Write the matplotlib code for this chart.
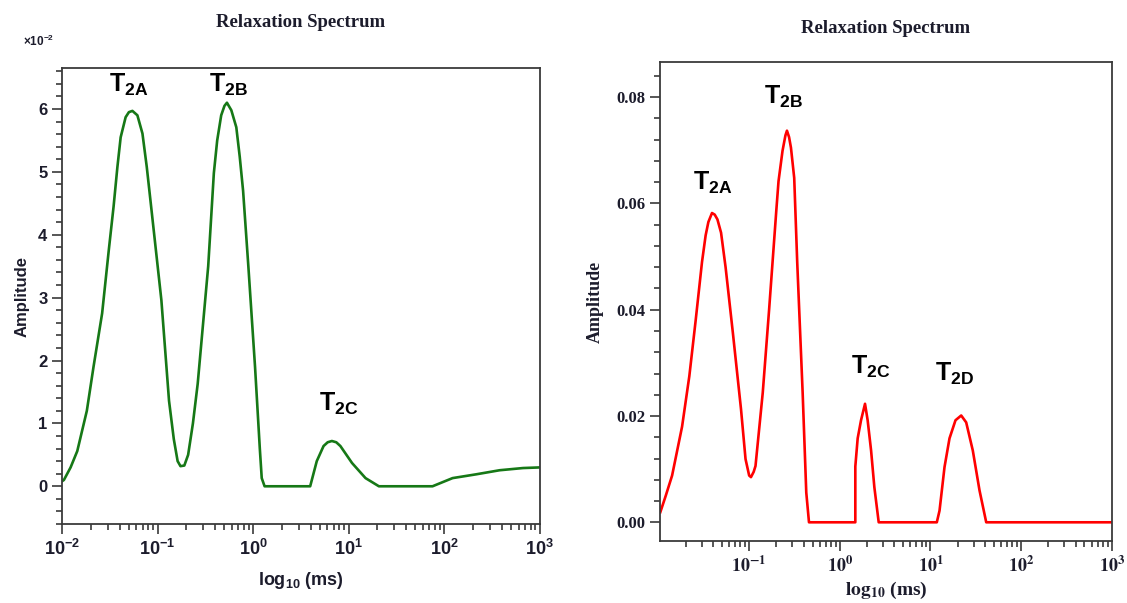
import matplotlib
matplotlib.use("Agg")
import matplotlib.pyplot as plt
from matplotlib.ticker import LogLocator, NullFormatter, MultipleLocator, FixedLocator, FixedFormatter

plt.rcParams['mathtext.fontset'] = 'custom'
plt.rcParams['mathtext.rm'] = 'Liberation Sans'
plt.rcParams['mathtext.bf'] = 'Liberation Sans:bold'

# left spectrum: log10(ms) vs amplitude (x1e-2)
green_log_t = [-2.00, -1.98, -1.91, -1.84, -1.74, -1.67, -1.58, -1.51, -1.46, -1.42,
               -1.386, -1.334, -1.30, -1.263, -1.211, -1.158, -1.113, -1.071, -0.96, -0.88,
               -0.83, -0.79, -0.76, -0.72, -0.68, -0.63, -0.58, -0.47, -0.411, -0.376,
               -0.334, -0.30, -0.274, -0.228, -0.176, -0.140, -0.105, -0.05, 0.02, 0.07,
               0.09, 0.12, 0.597, 0.666, 0.737, 0.78, 0.824, 0.87, 0.913, 1.035,
               1.176, 1.316, 1.877, 2.087, 2.333, 2.579, 2.824, 3.00]
green_amp = [0.08, 0.10, 0.30, 0.56, 1.20, 1.90, 2.75, 3.76, 4.45, 5.08,
             5.55, 5.87, 5.95, 5.97, 5.90, 5.61, 5.08, 4.50, 2.96, 1.36,
             0.75, 0.40, 0.32, 0.33, 0.50, 1.00, 1.63, 3.50, 4.98, 5.50,
             5.90, 6.05, 6.10, 5.98, 5.71, 5.24, 4.70, 3.50, 1.90, 0.60,
             0.13, 0.0, 0.0, 0.40, 0.64, 0.70, 0.72, 0.70, 0.64, 0.37,
             0.13, 0.0, 0.0, 0.13, 0.19, 0.255, 0.29, 0.30]
green_labels = ['2A', '2B', '2C']
green_label_t = [0.0495, 0.558, 7.85]
green_label_y = [6.27, 6.27, 1.2]

# right spectrum: log10(ms) vs amplitude
red_log_t = [-1.98, -1.92, -1.85, -1.74, -1.66, -1.59, -1.52, -1.48, -1.45, -1.41,
             -1.38, -1.35, -1.31, -1.26, -1.18, -1.09, -1.04, -1.00, -0.98, -0.95,
             -0.93, -0.85, -0.78, -0.70, -0.676, -0.632, -0.60, -0.583, -0.56, -0.539,
             -0.503, -0.47, -0.41, -0.37, -0.34, 0.171, 0.171, 0.197, 0.234, 0.278,
             0.307, 0.345, 0.381, 0.429, 1.07, 1.10, 1.155, 1.21, 1.276, 1.339,
             1.394, 1.467, 1.541, 1.615, 3.00]
red_amp = [0.0019, 0.0050, 0.0088, 0.0180, 0.0275, 0.0380, 0.0490, 0.0540, 0.0565, 0.0582,
           0.0579, 0.0570, 0.0545, 0.0480, 0.0357, 0.0213, 0.0119, 0.0088, 0.0085, 0.0095,
           0.0106, 0.0244, 0.0400, 0.0588, 0.0642, 0.0699, 0.0728, 0.0737, 0.0725, 0.0705,
           0.0648, 0.0490, 0.0244, 0.0056, 0.0, 0.0, 0.0105, 0.0158, 0.0192, 0.0223,
           0.0192, 0.0135, 0.0066, 0.0, 0.0, 0.0022, 0.0104, 0.0158, 0.0192, 0.0201,
           0.0188, 0.0135, 0.0060, 0.0, 0.0]
red_labels = ['2A', '2B', '2C', '2D']
red_label_t = [0.040, 0.2375, 2.17, 18.4]
red_label_y = [0.0625, 0.0787, 0.028, 0.0267]

decades = [-2, -1, 0, 1, 2, 3]

fig = plt.figure(figsize=(11.27, 6.03), dpi=100)
ax1 = fig.add_axes([0.055, 0.131, 0.424, 0.756])
ax2 = fig.add_axes([0.586, 0.103, 0.4005, 0.794])

axc = '#3a3a3a'
txc = '#1c1c2c'


def style(ax, decs, mfont, yfam):
    ax.set_xscale('log')
    for s in ax.spines.values():
        s.set_color(axc)
        s.set_linewidth(1.3)
    ax.xaxis.set_major_locator(FixedLocator([10.0 ** d for d in decs]))
    ax.xaxis.set_major_formatter(FixedFormatter([r'$\mathbf{10^{%d}}$' % d for d in decs]))
    ax.xaxis.set_minor_locator(LogLocator(base=10, subs=range(2, 10), numticks=20))
    ax.xaxis.set_minor_formatter(NullFormatter())
    ax.tick_params(which='major', direction='out', length=7, width=1.2, color=axc,
                   top=False, right=False, labelcolor=txc)
    ax.tick_params(which='minor', direction='out', length=4.5, width=1.2, color=axc,
                   top=False, right=False)
    for lab in ax.get_xticklabels():
        lab.set_fontsize(13)
        lab.set_math_fontfamily(mfont)
    for lab in ax.get_yticklabels():
        lab.set_fontfamily(yfam)
        lab.set_fontweight('bold')
        lab.set_fontsize(12)


# left panel
ax1.plot([10 ** v for v in green_log_t], green_amp, color='#167816', lw=1.9)
style(ax1, decades, 'custom', 'Liberation Sans')
ax1.set_xlim(0.01, 1000)
ax1.set_ylim(-0.6, 6.65)
ax1.yaxis.set_major_locator(MultipleLocator(1))
ax1.yaxis.set_minor_locator(MultipleLocator(0.2))
for lab in ax1.get_yticklabels():
    lab.set_fontfamily('Liberation Sans')
    lab.set_fontweight('bold')
    lab.set_fontsize(12)
ax1.set_ylabel('Amplitude', fontsize=12, fontweight='bold', family='Liberation Sans',
               color=txc, labelpad=6)
ax1.set_xlabel(r'$\mathbf{log_{10}}$ (ms)', fontsize=13, fontweight='bold',
               family='Liberation Sans', color=txc, labelpad=8)
for lab, t, y in zip(green_labels, green_label_t, green_label_y):
    ax1.text(t, y, r'$\mathbf{T_{%s}}$' % lab, fontsize=18, ha='center', va='baseline',
             color='black')
fig.text(0.0345, 0.932, r'$\mathbf{\times 10^{-2}}$', fontsize=8.5, color=txc,
         ha='center', va='center')
fig.text(0.267, 0.963, 'Relaxation Spectrum', fontsize=13.5, fontweight='bold',
         family='Liberation Serif', ha='center', va='center', color=txc)

# right panel
ax2.plot([10 ** v for v in red_log_t], red_amp, color='#ff0000', lw=1.9)
style(ax2, decades[1:], 'stix', 'Liberation Serif')
ax2.set_xlim(0.0105, 1000)
ax2.set_ylim(-0.0035, 0.0866)
ax2.yaxis.set_major_locator(FixedLocator([0.0, 0.02, 0.04, 0.06, 0.08]))
ax2.yaxis.set_major_formatter(FixedFormatter(['0.00', '0.02', '0.04', '0.06', '0.08']))
ax2.yaxis.set_minor_locator(MultipleLocator(0.004))
for lab in ax2.get_yticklabels():
    lab.set_fontfamily('Liberation Serif')
    lab.set_fontweight('bold')
    lab.set_fontsize(12)
ax2.set_ylabel('Amplitude', fontsize=13, fontweight='bold', family='Liberation Serif',
               color=txc, labelpad=9)
ax2.set_xlabel(r'$\mathbf{log_{10}}$ (ms)', fontsize=14, fontweight='bold',
               family='Liberation Serif', color=txc, labelpad=3, math_fontfamily='stix')
for lab, t, y in zip(red_labels, red_label_t, red_label_y):
    ax2.text(t, y, r'$\mathbf{T_{%s}}$' % lab, fontsize=18, ha='center', va='baseline',
             color='black')
fig.text(0.786, 0.953, 'Relaxation Spectrum', fontsize=13.5, fontweight='bold',
         family='Liberation Serif', ha='center', va='center', color=txc)

fig.savefig('out.png', dpi=100)
